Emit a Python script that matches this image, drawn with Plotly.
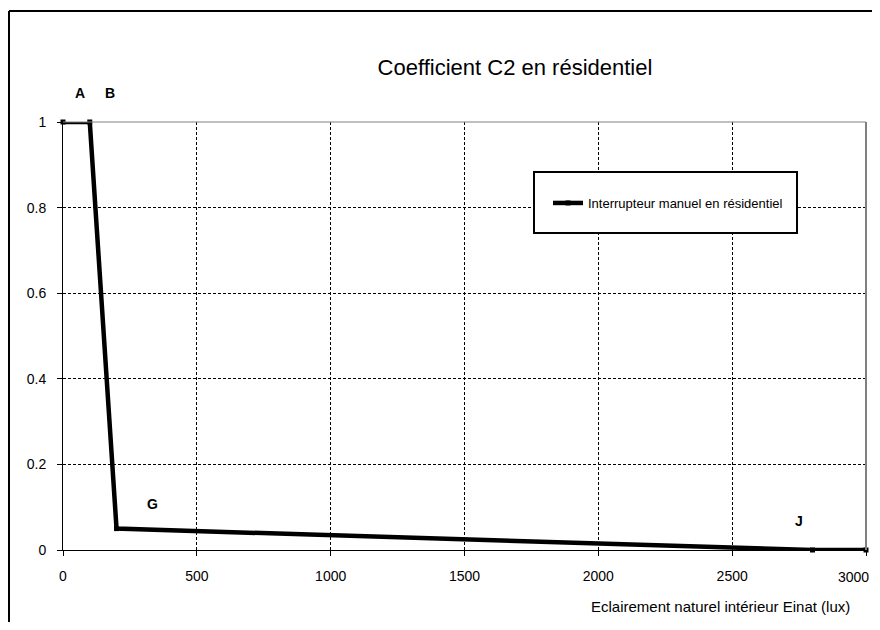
import plotly.graph_objects as go

# Data
x_lux = [0, 100, 200, 2800, 3000]
c2 = [1, 1, 0.05, 0, 0]
series_name = "Interrupteur manuel en résidentiel"
point_labels = ["A", "B", "G", "J"]
label_x = [63, 176, 336, 2750]
label_y = [1.068, 1.068, 0.107, 0.068]
x_ticks = [0, 500, 1000, 1500, 2000, 2500, 3000]
x_tick_text = ["0", "500", "1000", "1500", "2000", "2500", "3000"]
y_ticks = [0, 0.2, 0.4, 0.6, 0.8, 1]
y_tick_text = ["0", "0.2", "0.4", "0.6", "0.8", "1"]

OFF = 8  # page body margin
W, H = 880 - 2 * OFF, 630 - 2 * OFF
PL, PR, PT, PB = 63, 866, 122, 550  # plot area in page pixels
L, T = PL - OFF, PT - OFF
R = W - (PR - OFF)
B = H - (PB - OFF)
pw, ph = PR - PL, PB - PT

def px(xp):
    return (xp - PL) / pw

def py(yp):
    return (PB - yp) / ph

FONT = "Liberation Sans, Arial, sans-serif"

fig = go.Figure()
fig.add_trace(go.Scatter(
    x=x_lux, y=c2, mode="lines+markers", name=series_name,
    line=dict(color="black", width=4.5),
    marker=dict(symbol="square", size=5, color="black"),
    showlegend=True, cliponaxis=False,
))

annotations = []
for t, ax, ay in zip(point_labels, label_x, label_y):
    annotations.append(dict(x=ax, y=ay, xref="x", yref="paper", text="<b>%s</b>" % t,
                            xanchor="center", yanchor="middle",
                            showarrow=False, font=dict(family=FONT, size=14, color="black")))
annotations.append(dict(x=px(852), y=py(606), xref="paper", yref="paper",
                        xanchor="right", yanchor="middle", showarrow=False,
                        text="Eclairement naturel intérieur Einat (lux)",
                        font=dict(family=FONT, size=15, color="black")))
# last tick label drawn as text kept inside the page edge
annotations.append(dict(x=x_ticks[-1], y=py(577), xref="x", yref="paper",
                        xanchor="right", yanchor="middle", xshift=5, showarrow=False,
                        text=x_tick_text[-1], font=dict(family=FONT, size=14, color="black")))

shapes = [
    # outer frame (top and left visible)
    dict(type="line", xref="paper", yref="paper", x0=px(9), y0=py(640), x1=px(9), y1=py(11),
         line=dict(color="black", width=2)),
    dict(type="line", xref="paper", yref="paper", x0=px(9), y0=py(11), x1=px(890), y1=py(11),
         line=dict(color="black", width=2)),
    # plot area top and right borders (gray)
    dict(type="line", xref="paper", yref="paper", x0=0, y0=1, x1=1, y1=1,
         line=dict(color="#808080", width=1), layer="above"),
    dict(type="line", xref="paper", yref="paper", x0=1, y0=0, x1=1, y1=1,
         line=dict(color="#808080", width=2), layer="above"),
    # legend box
    dict(type="rect", xref="paper", yref="paper", x0=px(534), y0=py(233), x1=px(797), y1=py(172),
         line=dict(color="black", width=2), fillcolor="white", layer="above"),
]

fig.update_layout(
    width=W, height=H,
    margin=dict(l=L, r=R, t=T, b=B, autoexpand=False),
    paper_bgcolor="white", plot_bgcolor="white",
    font=dict(family=FONT, size=14, color="black"),
    title=dict(text="Coefficient C2 en résidentiel", x=(515 - OFF) / W, xref="container", xanchor="center",
               y=1 - (67 - OFF) / H, yref="container", yanchor="middle",
               font=dict(family=FONT, size=22, color="black")),
    xaxis=dict(range=[0, 3000], tickvals=x_ticks, ticktext=x_tick_text[:-1] + [""],
               showgrid=True, gridcolor="black", griddash="3px,2px", gridwidth=1,
               zeroline=False, showline=True, linecolor="black", linewidth=1,
               ticks="outside", ticklen=5, tickcolor="black", tickfont=dict(size=14),
               ticklabelstandoff=8, automargin=False),
    yaxis=dict(range=[0, 1], tickvals=y_ticks, ticktext=y_tick_text,
               showgrid=True, gridcolor="black", griddash="3px,2px", gridwidth=1,
               zeroline=False, showline=True, linecolor="black", linewidth=1,
               ticks="outside", ticklen=5, tickcolor="black", tickfont=dict(size=14),
               ticklabelstandoff=8, automargin=False),
    showlegend=True,
    legend=dict(x=px(548), y=py(203), xanchor="left", yanchor="middle",
                bgcolor="rgba(0,0,0,0)", borderwidth=0,
                font=dict(family=FONT, size=13, color="black")),
    annotations=annotations,
    shapes=shapes,
)

fig.write_html("out.html")
